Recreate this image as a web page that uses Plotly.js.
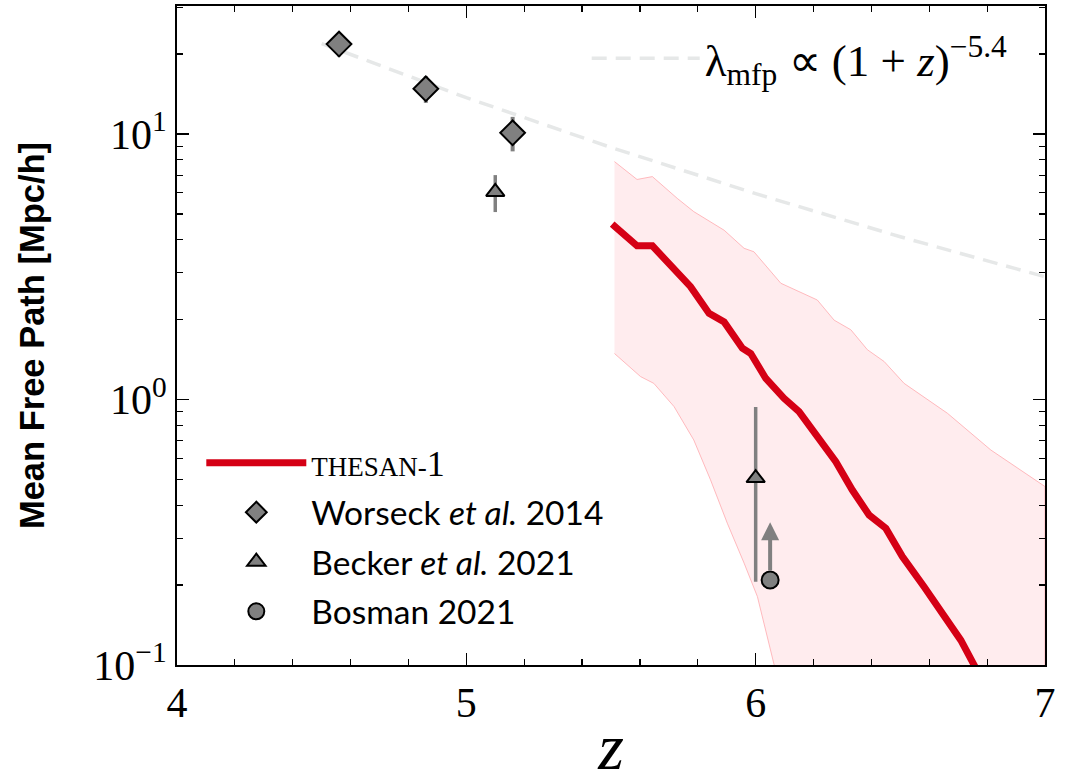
<!DOCTYPE html>
<html>
<head>
<meta charset="utf-8">
<script src="https://cdn.plot.ly/plotly-3.0.1.min.js"></script>
<style>html,body{margin:0;padding:0;background:#fff}</style>
</head>
<body>
<div id="chart" style="width:1065px;height:783px"></div>
<script>
// THESAN-1 median mean free path and its scatter band
const thesanZ   = [5.504,5.59,5.643,5.718,5.775,5.839,5.891,5.954,5.983,6.035,6.098,6.150,6.213,6.277,6.334,6.392,6.450,6.507,6.582,6.663,6.709,6.755,6.78];
const thesanMfp = [4.58,3.79,3.79,3.12,2.66,2.11,1.96,1.56,1.49,1.20,1.01,0.90,0.724,0.583,0.456,0.367,0.327,0.256,0.197,0.148,0.124,0.100,0.088];
const bandUpZ   = [5.512,5.59,5.643,5.729,5.786,5.891,5.960,5.994,6.087,6.213,6.271,6.329,6.386,6.444,6.513,6.663,6.813,7.0];
const bandUp    = [7.87,6.74,6.91,5.72,5.10,4.34,3.71,3.60,2.74,2.37,1.99,1.83,1.54,1.39,1.15,0.887,0.645,0.47];
const bandLoZ   = [5.512,5.602,5.648,5.718,5.786,5.844,5.902,5.960,6.006,6.064,6.09,7.0];
const bandLo    = [1.49,1.22,1.15,0.940,0.704,0.498,0.342,0.242,0.181,0.100,0.085,0.03];
// Power-law guide  lambda ∝ (1+z)^-5.4
const guideZ    = [4.5,5.0,5.5,6.0,6.5,7.0];
const guideMfp  = [21.9,13.7,8.9,5.96,4.1,2.9];
// Observations
const worseckZ = [4.56,4.86,5.16];
const worseckMfp = [21.8,14.8,10.1];
const worseckErr = [2.2,1.7,1.5];
const beckerZ = [5.1,6.0];
const beckerMfp = [6.05,0.506];
const beckerErrPlus = [0.95,0.43];
const beckerErrMinus = [0.97,0.30];
const bosmanZ = [6.05];
const bosmanMfp = [0.209];
const bosmanLimitTip = [0.345];
// Axis ticks
const yTickVals = [0.1,1,10];
const yTickText = ['10<sup>−1</sup>','10<sup>0</sup>','10<sup>1</sup>'];
const xTickVals = [4,5,6,7];

const bandX = bandUpZ.concat(bandLoZ.slice().reverse());
const bandY = bandUp.concat(bandLo.slice().reverse());

const grey = '#808080';
const traces = [
  {x: bandX, y: bandY, type:'scatter', mode:'lines', fill:'toself',
   fillcolor:'rgba(255,200,205,0.35)', line:{color:'rgba(255,170,175,0.8)', width:1},
   showlegend:false, hoverinfo:'skip'},
  {x: guideZ, y: guideMfp, type:'scatter', mode:'lines', name:'λ<sub>mfp</sub> ∝ (1 + <i>z</i>)<sup>−5.4</sup>',
   line:{color:'#e6e8e8', width:3.5, dash:'15px,9px'}, legend:'legend2'},
  {x: thesanZ, y: thesanMfp, type:'scatter', mode:'lines',
   name:'<span style="font-family:\'Liberation Serif\';font-size:27px">THESAN-</span><span style="font-family:\'Liberation Serif\';font-size:36px">1</span>',
   line:{color:'#d50015', width:7}, legendgroup:'a'},
  {x: worseckZ, y: worseckMfp, type:'scatter', mode:'markers', name:'Worseck <i>et al.</i> 2014',
   marker:{symbol:'diamond', size:19, color:grey, line:{color:'#000', width:2}},
   error_y:{type:'data', array:worseckErr, color:grey, thickness:4, width:0}, legendgroup:'b'},
  {x: beckerZ, y: beckerMfp, type:'scatter', mode:'markers', name:'Becker <i>et al.</i> 2021',
   marker:{symbol:'triangle-up', size:16, color:grey, line:{color:'#000', width:2}},
   error_y:{type:'data', symmetric:false, array:beckerErrPlus, arrayminus:beckerErrMinus, color:grey, thickness:3.5, width:0}, legendgroup:'c'},
  {x: bosmanZ, y: bosmanMfp, type:'scatter', mode:'markers', name:'Bosman 2021',
   marker:{symbol:'circle', size:17, color:grey, line:{color:'#000', width:2}}, legendgroup:'d'}
];

const annotations = bosmanZ.map((z,i)=>({
  x: z, y: Math.log10(bosmanLimitTip[i]), ax: z, ay: Math.log10(bosmanMfp[i]),
  xref:'x', yref:'y', axref:'x', ayref:'y', text:'', showarrow:true,
  arrowhead:2, arrowsize:0.9, arrowwidth:4, arrowcolor:grey, startstandoff:8
}));

const tickFont = {family:'Liberation Serif, serif', size:42, color:'#000'};
const layout = {
  width:1065, height:783,
  margin:{l:177, r:20, t:6, b:118},
  paper_bgcolor:'#fff', plot_bgcolor:'#fff',
  xaxis:{range:[4,7], tickvals:xTickVals, ticks:'inside', ticklen:12, tickwidth:1.5,
    minor:{dtick:0.2, ticks:'inside', ticklen:6, tickwidth:1.2, tickcolor:'#000'},
    showline:true, linecolor:'#000', linewidth:2, mirror:'ticks', showgrid:false, zeroline:false,
    tickfont:tickFont, tickcolor:'#000',
    title:{text:'<i>z</i>', font:{family:'Liberation Serif, serif', size:66, color:'#000'}, standoff:18}},
  yaxis:{type:'log', range:[-1,1.482], tickvals:yTickVals, ticktext:yTickText, ticks:'inside', ticklen:12, tickwidth:1.5,
    minor:{dtick:'D1', ticks:'inside', ticklen:6, tickwidth:1.2, tickcolor:'#000'},
    showline:true, linecolor:'#000', linewidth:2, mirror:'ticks', showgrid:false, zeroline:false,
    tickfont:tickFont, tickcolor:'#000',
    title:{text:'<b>Mean Free Path [Mpc/h]</b>', font:{family:'Liberation Sans, Arial, sans-serif', size:34.5, color:'#000'}, standoff:38}},
  legend:{x:0.028, y:0.35, xanchor:'left', yanchor:'top', bgcolor:'rgba(0,0,0,0)',
    font:{family:'Lato, sans-serif', size:33.5, color:'#000'}, tracegroupgap:3, itemwidth:100},
  legend2:{x:0.472, y:0.975, xanchor:'left', yanchor:'top', bgcolor:'rgba(0,0,0,0)',
    font:{family:'Liberation Serif, serif', size:45, color:'#000'}, itemwidth:108},
  annotations: annotations,
  showlegend:true
};
Plotly.newPlot('chart', traces, layout, {displayModeBar:false, staticPlot:true});
</script>
</body>
</html>
